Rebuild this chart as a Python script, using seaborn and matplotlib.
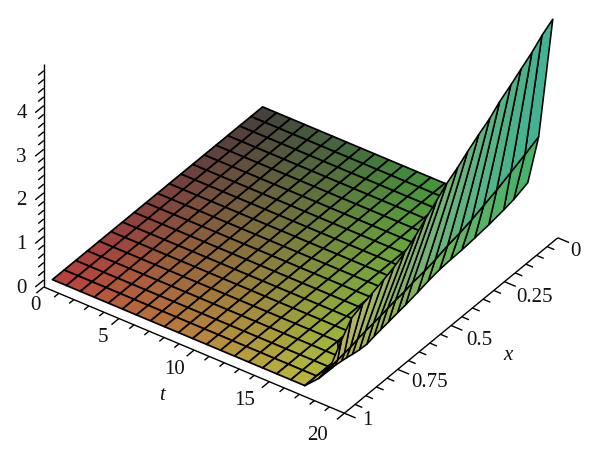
import numpy as np
import matplotlib
matplotlib.use("Agg")
import matplotlib.pyplot as plt
import seaborn as sns
from mpl_toolkits.mplot3d import proj3d

# Flat sheet of the surface
t_nodes = [0.36, 1.29, 2.22, 3.15, 4.09, 5.02, 5.95, 6.89, 7.82, 8.75, 9.69, 10.62,
           11.55, 12.48, 13.42, 14.35, 15.28, 16.22, 17.15, 18.08, 19.02]
x_nodes = [0, .055, .109, .164, .219, .274, .328, .383, .438, .493, .547, .602,
           .657, .711, .766, .821, .876, .93, .985]
sheet_t_end = 16.22            # sheet hidden behind the wall beyond this t
corner_rows = [15, 16, 17, 18]  # rows that carry on up to the fold
corner_z_19 = [.45, .40, .35, .30]
corner_z_20 = [.90, .85, .78, .69]

# Steep wall at the t = 20 side
wall_t = 19.65
top_x = [-.001, .05, .097, .149, .196, .248, .295, .346, .398, .445, .496, .543, .595,
         .642, .694, .745, .792, .844, .891, .942, .989, 1.041]
top_z = [4.80, 4.63, 4.43, 4.25, 4.08, 3.91, 3.71, 3.55, 3.37, 3.19, 3.03, 2.83, 2.62,
         2.42, 2.24, 2.10, 2.01, 1.92, 1.84, 1.74, 1.42, 1.02]
ridge_x = [.065, .130, .196, .262, .323, .379, .435, .492, .550, .600, .656, .694, .736,
           .773, .806, .839, .877, .914, .947, .975, 1.008, 1.041]
ridge_z = [2.37, 2.22, 2.08, 1.94, 1.83, 1.73, 1.65, 1.59, 1.50, 1.44, 1.40, 1.35, 1.32,
           1.28, 1.24, 1.21, 1.18, 1.14, 1.09, 1.07, 1.04, 1.02]
foot_x = [.116, .182, .229, .299, .365, .426, .478, .529, .583, .633, .689, .727, .769,
          .806, .837, .870, .905, .938, .966, .989, 1.018, 1.041]
foot_z = [1.52, 1.40, 1.35, 1.29, 1.25, 1.22, 1.21, 1.19, 1.14, 1.08, 1.02, .99, .95,
          .92, .89, .85, .86, .89, .92, .94, .96, 1.00]

# Axis ticks and labels
t_ticks = list(range(0, 21))
x_ticks = [i * 0.05 for i in range(21)]
z_ticks = [i * 0.2 for i in range(25)]
t_labels = ["0", "5", "10", "15", "20"]
t_label_t = [.51, 5.18, 10.07, 14.78, 19.88]
t_label_x = [1.073, 1.088, 1.095, 1.102, 1.118]
x_labels = ["0", "0.25", "0.5", "0.75", "1"]
x_label_t = [21.44, 22.05, 21.93, 21.98, 21.28]
x_label_x = [.017, .252, .502, .74, .982]
z_labels = ["0", "1", "2", "3", "4"]
z_label_z = [0, 1, 2, 3, 4]

Z_FLOOR = -0.16
Z_TOP = 4.96

sns.set_theme(style="white")
plt.rcParams["font.family"] = ["Liberation Serif", "DejaVu Serif"]

S = 800
fig = plt.figure(figsize=(6.0, 4.67), dpi=100)
ax = fig.add_axes([(290.0 - S / 2) / 600, (467 - 161.6 - S / 2) / 467, S / 600, S / 467],
                  projection="3d", computed_zorder=False)
ax.set_proj_type("ortho")
ax.view_init(elev=35.98, azim=-54.44)
ax.set_xlim(0, 20)
ax.set_ylim(1, 0)
ax.set_zlim(Z_FLOOR, Z_TOP)
ax.set_box_aspect((368.8, 366.3, 275.3), zoom=572.1 / S)
ax.set_xticks([])
ax.set_yticks([])
ax.set_zticks([])
ax.set_axis_off()


def cell_colors(T, X, Z, red_power=1.0):
    tc = (T[:-1, :-1] + T[1:, 1:]) / 2
    xc = (X[:-1, :-1] + X[1:, 1:]) / 2
    zc = (Z[:-1, :-1] + Z[1:, 1:]) / 2
    r = (66 + 122 * np.clip(xc, 0, 1) ** red_power) / 255
    g = (60 + 148 * tc / 20) / 255
    b = (60 + 25 * np.clip(zc, 0, 5)) / 255
    return np.dstack([r, np.clip(g, 0, .70), b, np.ones_like(r)])


# flat sheet
tn = np.array(t_nodes)
xn = np.array(x_nodes)
T, X = np.meshgrid(tn, xn)
Z = np.zeros_like(T)
T[:corner_rows[0]] = np.minimum(T[:corner_rows[0]], sheet_t_end)
for row, z19, z20 in zip(corner_rows, corner_z_19, corner_z_20):
    Z[row, 19] = z19
    Z[row, 20] = z20
sheet = ax.plot_surface(T, X, Z, rstride=1, cstride=1, facecolors=cell_colors(T, X, Z),
                        shade=False, zorder=2)
sheet.set_edgecolor("black")
sheet.set_linewidth(1.25)

# wall
Xw = np.array([top_x, ridge_x, foot_x])
Zw = np.array([top_z, ridge_z, foot_z])
Tw = np.full_like(Xw, wall_t)
wall = ax.plot_surface(Tw, Xw, Zw, rstride=1, cstride=1,
                       facecolors=cell_colors(Tw, Xw, Zw, red_power=1.5),
                       shade=False, zorder=3)
wall.set_edgecolor("black")
wall.set_linewidth(1.15)

# axes
axkw = dict(color="black", lw=1.0, zorder=4, solid_capstyle="butt")
ax.plot([0, 20], [1, 1], [Z_FLOOR, Z_FLOOR], **axkw)
ax.plot([20, 20], [0, 1], [Z_FLOOR, Z_FLOOR], **axkw)
ax.plot([0, 0], [1, 1], [Z_FLOOR, Z_TOP], **axkw)
for v in t_ticks:
    d = .035 if v % 5 == 0 else .022
    ax.plot([v, v], [1, 1 + d], [Z_FLOOR, Z_FLOOR], **axkw)
for i, v in enumerate(x_ticks):
    d = .75 if i % 5 == 0 else .48
    ax.plot([20, 20 + d], [v, v], [Z_FLOOR, Z_FLOOR], **axkw)
for i, v in enumerate(z_ticks):
    d = .04 if i % 5 == 0 else .026
    ax.plot([0, 0], [1, 1 + d], [v, v], **axkw)


def label(s, t, x, z, **kw):
    # project the 3D anchor so the text is an ordinary 2D label of the axes
    px, py, _ = proj3d.proj_transform(t, x, z, ax.get_proj())
    ax.annotate(s, (px, py), xycoords=ax.transData, xytext=(0, -1.5), textcoords="offset points",
                fontsize=15, ha="center", va="center", color="#111111", zorder=5,
                annotation_clip=False, **kw)


for s, a, b in zip(t_labels, t_label_t, t_label_x):
    label(s, a, b, Z_FLOOR)
for s, a, b in zip(x_labels, x_label_t, x_label_x):
    label(s, a, b, Z_FLOOR)
for s, v in zip(z_labels, z_label_z):
    label(s, -.65, 1.058, v)
label("t", 10.9, 1.2135, Z_FLOOR, style="italic")
label("x", 23.97, .514, Z_FLOOR, style="italic")

fig.savefig("out.png", dpi=100, facecolor="white")
